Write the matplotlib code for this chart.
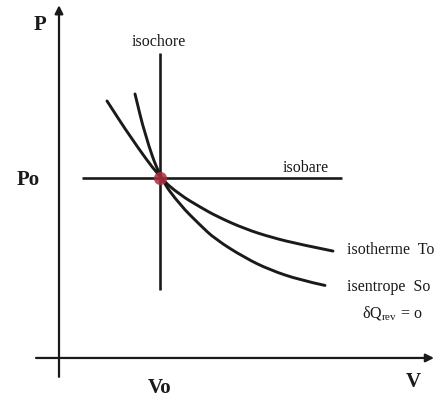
import matplotlib
matplotlib.use("Agg")
import matplotlib.pyplot as plt
from matplotlib.path import Path
from matplotlib.patches import PathPatch

# reference state
V0 = 1.0
P0 = 1.0

# isotherm T0 (P*V roughly constant)
iso_T_V = [0.47, 0.71, 1.00, 1.20, 1.40, 1.57, 1.85, 2.12, 2.40, 2.73]
iso_T_P = [1.428, 1.222, 1.000, 0.906, 0.839, 0.786, 0.717, 0.669, 0.631, 0.594]

# isentrope S0 (steeper than the isotherm)
iso_S_V = [0.75, 0.85, 1.00, 1.20, 1.40, 1.55, 1.85, 2.10, 2.40, 2.65]
iso_S_P = [1.467, 1.239, 1.000, 0.850, 0.739, 0.661, 0.556, 0.489, 0.433, 0.403]

# extent of the isochore / isobare segments
isochore_P = [0.378, 1.694]
isobare_V = [0.22, 2.82]

ink = "#1c1a18"
serif = ["Liberation Serif", "DejaVu Serif"]
plt.rcParams["mathtext.fontset"] = "custom"
plt.rcParams["mathtext.rm"] = "Liberation Serif"


def smooth_path(xs, ys):
    # quadratic bezier chain through the midpoints of the sampled points
    pts = list(zip(xs, ys))
    verts = [pts[0]]
    codes = [Path.MOVETO]
    verts.append(((pts[0][0] + pts[1][0]) / 2, (pts[0][1] + pts[1][1]) / 2))
    codes.append(Path.LINETO)
    for i in range(1, len(pts) - 1):
        nxt = pts[i + 1] if i == len(pts) - 2 else ((pts[i][0] + pts[i + 1][0]) / 2,
                                                     (pts[i][1] + pts[i + 1][1]) / 2)
        verts += [pts[i], nxt]
        codes += [Path.CURVE3, Path.CURVE3]
    return Path(verts, codes)


fig = plt.figure(figsize=(4.34, 3.99), dpi=100)
ax = fig.add_axes([0, 0, 1, 1])
ax.set_xlim(-0.6, 3.74)
ax.set_ylim(-0.228, 1.989)
ax.axis("off")

# axes with arrows
ax.annotate("", xy=(3.74, 0.0), xytext=(-0.24, 0.0),
            arrowprops=dict(arrowstyle="-|>", lw=1.6, color=ink, mutation_scale=12, shrinkA=0, shrinkB=0))
ax.annotate("", xy=(-0.01, 1.96), xytext=(-0.01, -0.105),
            arrowprops=dict(arrowstyle="-|>", lw=1.6, color=ink, mutation_scale=12, shrinkA=0, shrinkB=0))

# isochore and isobare
ax.plot([V0, V0], isochore_P, color=ink, lw=1.9, solid_capstyle="butt")
ax.plot(isobare_V, [P0, P0], color=ink, lw=1.9, solid_capstyle="butt")

# isotherm and isentrope
for vs, ps in [(iso_T_V, iso_T_P), (iso_S_V, iso_S_P)]:
    ax.add_patch(PathPatch(smooth_path(vs, ps), fill=False, edgecolor=ink, lw=2.1, capstyle="round"))

# common state point
ax.plot([V0], [P0], "o", ms=9.5, color="#a83040", alpha=0.85, mec="none", zorder=5)

# axis labels
big = dict(family=serif, fontsize=15, fontweight="bold", color=ink, ha="center", va="center")
ax.text(-0.2, 1.85, "P", **big)
ax.text(-0.32, 0.99, "Po", **big)
ax.text(1.0, -0.167, "Vo", **big)
ax.text(3.53, -0.133, "V", **big)

# curve labels
small = dict(family=serif, fontsize=11.5, color=ink)
ax.text(0.99, 1.756, "isochore", ha="center", va="center", **small)
ax.text(2.23, 1.01, "isobare", ha="left", va="bottom", **small)
ax.text(2.87, 0.60, "isotherme  To", ha="left", va="center", **small)
ax.text(2.87, 0.394, "isentrope  So", ha="left", va="center", **small)
ax.text(3.02, 0.244, r"δQ$_{\mathrm{rev}}$ = o", ha="left", va="center", **small)

fig.savefig("out.png", dpi=100)
